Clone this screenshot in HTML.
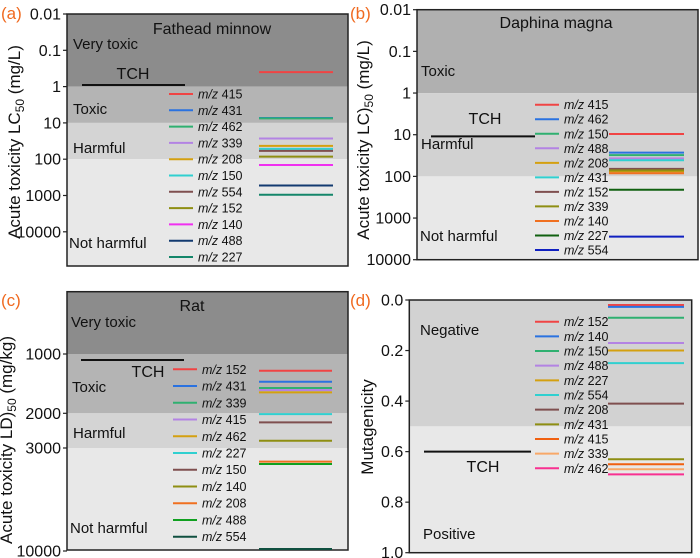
<!DOCTYPE html>
<html><head><meta charset="utf-8"><style>
html,body{margin:0;padding:0;background:#fff;}
svg{display:block;font-family:"Liberation Sans",Arial,sans-serif;}
</style></head><body>
<svg id="fig" width="700" height="558" viewBox="0 0 700 558" xmlns="http://www.w3.org/2000/svg"></svg>
<script>
// Panel (a) Fathead minnow, LC50 mg/L (log)
const aLabels = ["415","431","462","339","208","150","554","152","140","488","227"];
const aValues = [0.4,7.3,7.5,27,43,52,59,85,145,530,950];
const aColors = ["#f04444","#2a72e0","#2fb070","#b383e3","#d4a010","#30d0d0","#7f4f4f","#8e8e12","#f030f0","#123a70","#14866a"];
const aTicks = [0.01,0.1,1,10,100,1000,10000];
const aTCH = 0.9;
// Panel (b) Daphnia magna
const bLabels = ["415","462","150","488","208","431","152","339","140","227","554"];
const bValues = [9.6,27,31,37,76,41,66,72,84,210,2800];
const bColors = ["#f04444","#2a72e0","#2fb070","#b383e3","#d4a010","#30d0d0","#7f4f4f","#8e8e12","#f07020","#106010","#1020c0"];
const bTicks = [0.01,0.1,1,10,100,1000,10000];
const bTCH = 11;
// Panel (c) Rat LD50 mg/kg
const cLabels = ["152","431","339","415","462","227","150","140","208","488","554"];
const cValues = [1216,1383,1488,1524,1566,2018,2225,2755,3520,3616,9770];
const cColors = ["#f04444","#2a72e0","#2fb070","#b383e3","#d4a010","#30d0d0","#7f4f4f","#8e8e12","#f07020","#10a020","#105040"];
const cTicks = [1000,2000,3000,10000];
const cTCH = 1073;
// Panel (d) Mutagenicity
const dLabels = ["152","140","150","488","227","554","208","431","415","339","462"];
const dValues = [0.02,0.027,0.07,0.17,0.2,0.25,0.41,0.63,0.65,0.67,0.69];
const dColors = ["#f04444","#2a72e0","#2fb070","#b383e3","#d4a010","#30d0d0","#7f4f4f","#8e8e12","#f06010","#f8a868","#f83090"];
const dTicks = [0.0,0.2,0.4,0.6,0.8,1.0];
const dTCH = 0.6;

const NS="http://www.w3.org/2000/svg";
const svg=document.getElementById('fig');
function mk(tag,attrs,parent){const e=document.createElementNS(NS,tag);for(const k in attrs)e.setAttribute(k,attrs[k]);(parent||svg).appendChild(e);return e;}
function txt(s,attrs,parent){const t=mk('text',attrs,parent);t.textContent=s;return t;}

function panel(cfg){
  const g=mk('g',{});
  
  
  const y=cfg.y;
  cfg.bands.forEach(b=>{
    const y1=Math.max(cfg.top,y(b.from)), y2=Math.min(cfg.bottom,y(b.to));
    const r=mk('rect',{x:cfg.x0,y:y1,width:cfg.x1-cfg.x0,height:y2-y1,fill:b.fill},g);
    
    
    const t=txt(b.label,{x:b.lx,y:b.ly,'font-size':15,fill:'#111'},g);
    
    
  });
  const fr=mk('rect',{x:cfg.x0,y:cfg.top,width:cfg.x1-cfg.x0,height:cfg.bottom-cfg.top,fill:'none',stroke:'#222','stroke-width':1.5},g);
  
  
  cfg.ticks.forEach(v=>{
    const ty=y(v);
    mk('line',{x1:cfg.x0-4,x2:cfg.x0,y1:ty,y2:ty,stroke:'#222','stroke-width':1.2},g);
    const t=txt(cfg.fmt(v),{x:cfg.x0-6,y:ty+5.5,'font-size':16,'text-anchor':'end',fill:'#111'},g);
    
    
  });
  const at=txt('',{transform:`translate(${cfg.atx},${cfg.aty}) rotate(-90)`,'font-size':17,'text-anchor':'middle',fill:'#111'},g);
  at.innerHTML=cfg.atitle;
  
  
  const pl=txt(cfg.letter,{x:cfg.lx,y:cfg.ly,'font-size':17,fill:'#f06a20'},g);
  
  
  if(cfg.title){
    const tt=txt(cfg.title,{x:cfg.tx,y:cfg.ty,'font-size':16,'text-anchor':'middle',fill:'#111'},g);
    
    
  }
  const ty=y(cfg.tch);
  const tl=mk('line',{x1:cfg.tchX[0],x2:cfg.tchX[1],y1:ty,y2:ty,stroke:'#111','stroke-width':2},g);
  
  
  const tct=txt('TCH',{x:cfg.tchLx,y:cfg.tchLy,'font-size':16,'text-anchor':'middle',fill:'#111'},g);
  
  
  cfg.labels.forEach((lab,i)=>{
    const ly=cfg.legY0+i*cfg.legDy;
    const ll=mk('line',{x1:cfg.legX,x2:cfg.legX+24,y1:ly,y2:ly,stroke:cfg.colors[i],'stroke-width':2},g);
    
    
    const lt=txt('',{x:cfg.legX+29,y:ly+4.5,'font-size':12.5,fill:'#111'},g);
    lt.innerHTML='<tspan font-style="italic">m/z</tspan> '+lab;
    
    
    const sy=y(cfg.values[i]);
    const sl=mk('line',{x1:cfg.sX[0],x2:cfg.sX[1],y1:sy,y2:sy,stroke:cfg.colors[i],'stroke-width':2},g);
    
    
  });
}
const logFmt=v=>String(v);

{const top=14,per=36.3;const y=v=>top+(Math.log10(v)+2)*per;
panel({name:'panel-a-fathead-minnow',y,x0:67,x1:348,top:14,bottom:266,ticks:aTicks,fmt:logFmt,
 bands:[{id:'very-toxic',from:0.01,to:1,fill:'#8c8c8c',label:'Very toxic',lx:73,ly:49},
        {id:'toxic',from:1,to:10,fill:'#b4b4b4',label:'Toxic',lx:73,ly:114},
        {id:'harmful',from:10,to:100,fill:'#d4d4d4',label:'Harmful',lx:73,ly:153},
        {id:'not-harmful',from:100,to:1e6,fill:'#e8e8e8',label:'Not harmful',lx:69,ly:248}],
 atx:20,aty:142,atitle:'Acute toxicity LC<tspan font-size="12" dy="4">50</tspan><tspan dy="-4"> (mg/L)</tspan>',
 letter:'(a)',lx:1,ly:19,title:'Fathead minnow',tx:212,ty:34,
 tch:aTCH,tchX:[82,185],tchLx:133,tchLy:79,
 labels:aLabels,values:aValues,colors:aColors,legX:169,legY0:94,legDy:16.3,sX:[259,333]});}
{const top=9.7,per=41.67;const y=v=>top+(Math.log10(v)+2)*per;
panel({name:'panel-b-daphnia-magna',y,x0:417,x1:698,top:9.7,bottom:259.7,ticks:bTicks,fmt:logFmt,
 bands:[{id:'toxic',from:0.01,to:1,fill:'#b0b0b0',label:'Toxic',lx:421,ly:76},
        {id:'harmful',from:1,to:100,fill:'#d2d2d2',label:'Harmful',lx:421,ly:149},
        {id:'not-harmful',from:100,to:1e6,fill:'#e8e8e8',label:'Not harmful',lx:420,ly:241}],
 atx:369,aty:140,atitle:'Acute toxicity LC)<tspan font-size="12" dy="4">50</tspan><tspan dy="-4"> (mg/L)</tspan>',
 letter:'(b)',lx:350,ly:19,title:'Daphina magna',tx:556,ty:28,
 tch:bTCH,tchX:[431,535],tchLx:485,tchLy:124,
 labels:bLabels,values:bValues,colors:bColors,legX:535,legY0:104.7,legDy:14.53,sX:[609,684]});}
{const per=197;const y=v=>354+(Math.log10(v)-3)*per;
panel({name:'panel-c-rat',y,x0:67,x1:348,top:291.7,bottom:550,ticks:cTicks,fmt:logFmt,
 bands:[{id:'very-toxic',from:100,to:1000,fill:'#8c8c8c',label:'Very toxic',lx:71,ly:327},
        {id:'toxic',from:1000,to:2000,fill:'#b4b4b4',label:'Toxic',lx:72,ly:392},
        {id:'harmful',from:2000,to:3000,fill:'#d4d4d4',label:'Harmful',lx:73,ly:438},
        {id:'not-harmful',from:3000,to:1e6,fill:'#e8e8e8',label:'Not harmful',lx:70,ly:533}],
 atx:12,aty:440,atitle:'Acute toxicity LD)<tspan font-size="12" dy="4">50</tspan><tspan dy="-4"> (mg/kg)</tspan>',
 letter:'(c)',lx:1,ly:306,title:'Rat',tx:192,ty:311,
 tch:cTCH,tchX:[81,184],tchLx:148,tchLy:377,
 labels:cLabels,values:cValues,colors:cColors,legX:173,legY0:369.3,legDy:16.74,sX:[259,332]});}
{const per=252.7;const y=v=>300+v*per;
panel({name:'panel-d-mutagenicity',y,x0:409.3,x1:691.7,top:300,bottom:552.7,ticks:dTicks,fmt:v=>v.toFixed(1),
 bands:[{id:'negative',from:0,to:0.5,fill:'#d2d2d2',label:'Negative',lx:420,ly:335},
        {id:'positive',from:0.5,to:1,fill:'#e8e8e8',label:'Positive',lx:423,ly:539}],
 atx:373,aty:427,atitle:'Mutagenicity',
 letter:'(d)',lx:350,ly:306,title:'',
 tch:dTCH,tchX:[424,531],tchLx:483,tchLy:472,
 labels:dLabels,values:dValues,colors:dColors,legX:535,legY0:321.7,legDy:14.66,sX:[608,684]});}
</script>
</body></html>
